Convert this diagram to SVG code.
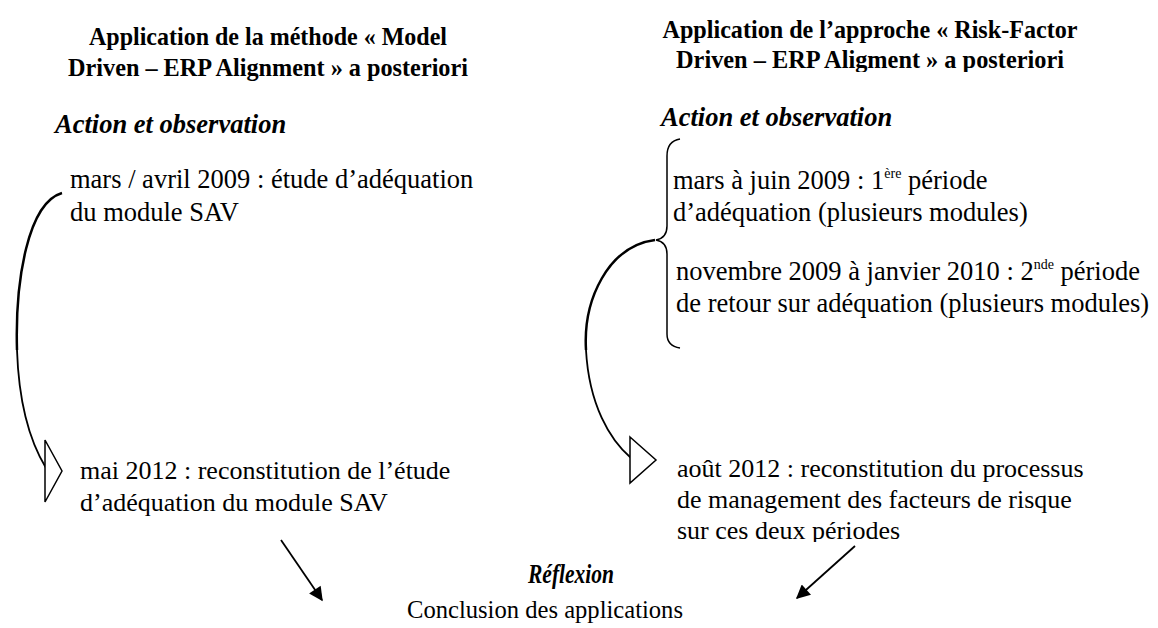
<svg xmlns="http://www.w3.org/2000/svg" width="1158" height="628" viewBox="0 0 1158 628">
<style>
.t{font-size:25.5px;font-weight:bold;text-anchor:middle}
.h{font-size:26.5px;font-weight:bold;font-style:italic}
.b{font-size:26px}
.br{font-size:26.5px}
.c{fill:none;stroke:#000;stroke-width:2.5}
.c2{fill:none;stroke:#000;stroke-width:1.8}
.head{fill:#fff;stroke:#000;stroke-width:1.5}
.ln{fill:none;stroke:#000;stroke-width:1.8}
</style>
<defs>
<marker id="ar" viewBox="0 0 10 10" refX="9" refY="5" markerWidth="16" markerHeight="14" markerUnits="userSpaceOnUse" orient="auto"><path d="M0,0 L10,5 L0,10 z" fill="#000"/></marker>
<clipPath id="clipR"><rect x="600" y="0" width="558" height="72"/></clipPath>
<clipPath id="clipS"><rect x="600" y="500" width="400" height="42"/></clipPath>
</defs>
<g font-family="'Liberation Serif', 'Times New Roman', serif" fill="#000">
<g id="title-left">
<text class="t" x="268" y="45" textLength="358" lengthAdjust="spacingAndGlyphs">Application de la méthode « Model</text>
<text class="t" x="268" y="76" textLength="400" lengthAdjust="spacingAndGlyphs">Driven – ERP Alignment » a posteriori</text>
</g>
<g id="title-right" clip-path="url(#clipR)">
<text class="t" x="870" y="38" textLength="415" lengthAdjust="spacingAndGlyphs">Application de l’approche « Risk-Factor</text>
<text class="t" x="870" y="68" textLength="388" lengthAdjust="spacingAndGlyphs">Driven – ERP Aligment » a posteriori</text>
</g>
<g id="action-left"><text class="h" x="55" y="133">Action et observation</text></g>
<g id="action-right"><text class="h" x="661" y="126">Action et observation</text></g>
<g id="step-left-1">
<text class="br" x="70" y="188">mars / avril 2009 : étude d’adéquation</text>
<text class="br" x="70" y="221">du module SAV</text>
</g>
<g id="step-right-1">
<text class="br" x="673" y="189">mars à juin 2009 : 1<tspan font-size="14" dy="-11">ère</tspan><tspan dy="11"> période</tspan></text>
<text class="br" x="673" y="221">d’adéquation (plusieurs modules)</text>
</g>
<g id="step-right-2">
<text class="br" x="676" y="280">novembre 2009 à janvier 2010 : 2<tspan font-size="14" dy="-11">nde</tspan><tspan dy="11"> période</tspan></text>
<text class="br" x="676" y="312">de retour sur adéquation (plusieurs modules)</text>
</g>
<g id="step-left-2">
<text class="b" x="80" y="479">mai 2012 : reconstitution de l’étude</text>
<text class="b" x="80" y="511">d’adéquation du module SAV</text>
</g>
<g id="step-right-3">
<text class="b" x="677" y="477">août 2012 : reconstitution du processus</text>
<text class="b" x="677" y="508">de management des facteurs de risque</text>
<g clip-path="url(#clipS)"><text class="b" x="677" y="539">sur ces deux périodes</text></g>
</g>
<g id="reflexion"><text class="h" x="571" y="583" font-size="28" text-anchor="middle" textLength="86" lengthAdjust="spacingAndGlyphs">Réflexion</text></g>
<g id="conclusion"><text class="b" x="545" y="618" font-size="27.5" text-anchor="middle" textLength="276" lengthAdjust="spacingAndGlyphs">Conclusion des applications</text></g>
</g>
<g id="connectors">
<path class="c" d="M62,193 C28,203 15,280 17,350"/>
<path class="c2" d="M17,350 C19,410 32,445 46,468"/>
<path class="head" d="M45,440 L62,471 L45,502 Z"/>
<path d="M680,139 Q667,141 667,156 L667,226 Q667,238 656,240 Q667,242 667,254 L667,334 Q667,346 680,348" fill="none" stroke="#000" stroke-width="1.5"/>
<path class="c" d="M655,240 C608,246 583,300 586,350"/>
<path class="c2" d="M586,350 C589,405 610,440 631,458"/>
<path class="head" d="M630,437 L656,460 L630,483 Z"/>
<line class="ln" x1="281" y1="540" x2="322" y2="600" marker-end="url(#ar)"/>
<line class="ln" x1="855" y1="546" x2="797" y2="598" marker-end="url(#ar)"/>
</g>
</svg>
